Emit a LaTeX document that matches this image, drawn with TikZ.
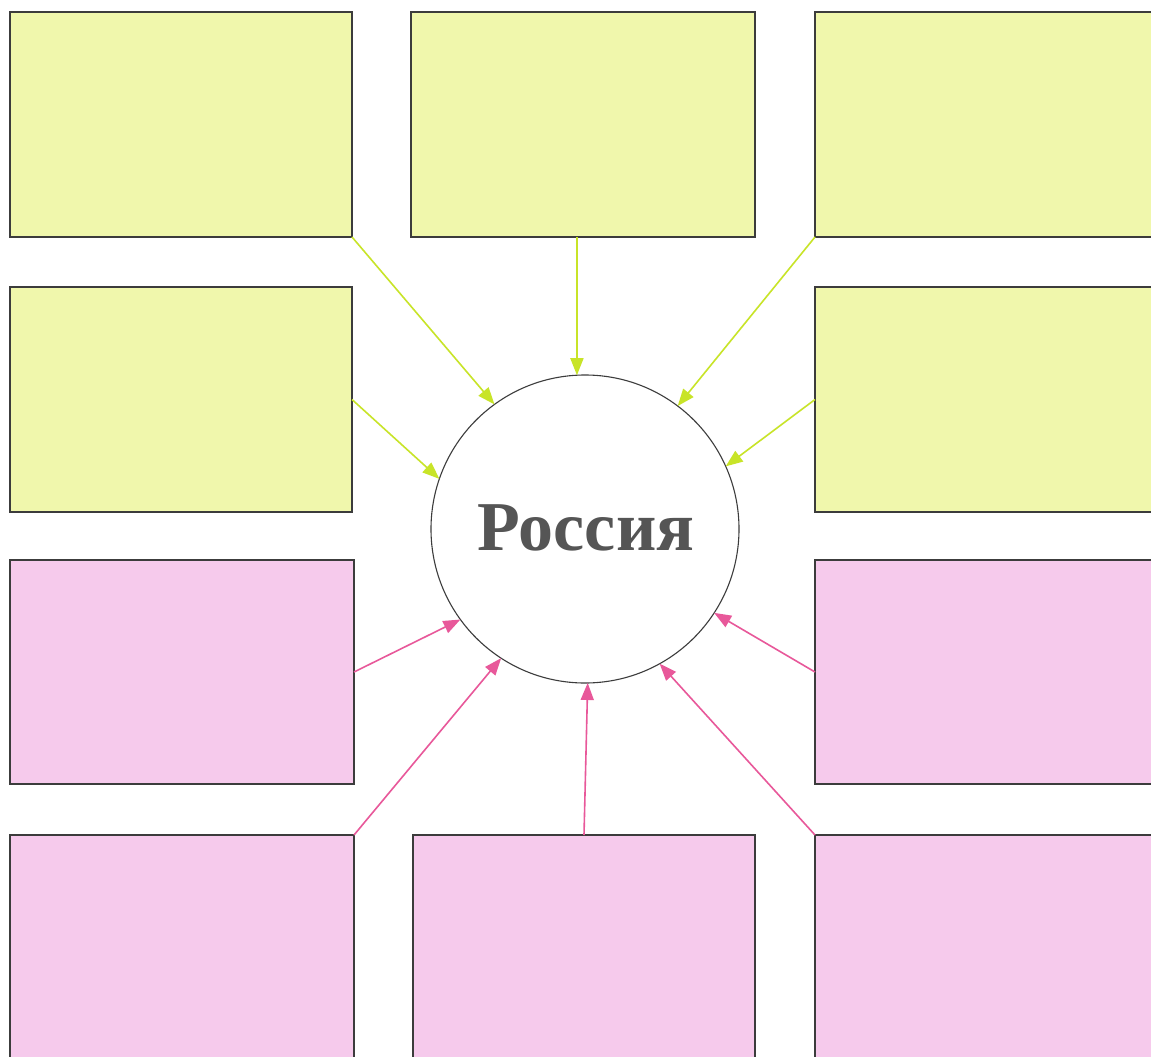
\documentclass[tikz,border=0pt]{standalone}
\usepackage{fontspec}
\setmainfont{Liberation Serif}
\usetikzlibrary{arrows.meta}
\definecolor{boxyellow}{RGB}{240,247,172}
\definecolor{boxpink}{RGB}{246,202,236}
\definecolor{arryellow}{RGB}{200,228,40}
\definecolor{arrpink}{RGB}{232,88,154}
\definecolor{edgegrey}{RGB}{60,60,60}
\definecolor{titlegrey}{RGB}{85,85,85}
\tikzset{
  card/.style={rectangle, draw=edgegrey, line width=1.3pt, inner sep=0pt, outer sep=0pt, anchor=north west},
  ycard/.style={card, fill=boxyellow},
  pcard/.style={card, fill=boxpink},
  yarrow/.style={draw=arryellow, line width=1.6pt, -{Triangle[length=17pt,width=13pt]}},
  parrow/.style={draw=arrpink, line width=1.6pt, -{Triangle[length=17pt,width=13pt]}},
}
\begin{document}
\begin{tikzpicture}[x=1pt,y=-1pt]
\useasboundingbox (0,0) rectangle (1151,1057);
\clip (0,0) rectangle (1151,1057);
\fill[white] (0,0) rectangle (1151,1057);
% yellow cards
\node[ycard, minimum width=342pt, minimum height=225pt] (b1) at (10,12) {};
\node[ycard, minimum width=344pt, minimum height=225pt] (b2) at (411,12) {};
\node[ycard, minimum width=360pt, minimum height=225pt] (b3) at (815,12) {};
\node[ycard, minimum width=342pt, minimum height=225pt] (b4) at (10,287) {};
\node[ycard, minimum width=360pt, minimum height=225pt] (b5) at (815,287) {};
% pink cards
\node[pcard, minimum width=344pt, minimum height=224pt] (b6) at (10,560) {};
\node[pcard, minimum width=360pt, minimum height=224pt] (b7) at (815,560) {};
\node[pcard, minimum width=344pt, minimum height=240pt] (b8) at (10,835) {};
\node[pcard, minimum width=342pt, minimum height=240pt] (b9) at (413,835) {};
\node[pcard, minimum width=360pt, minimum height=240pt] (b10) at (815,835) {};
% centre circle
\node[circle, draw=edgegrey, line width=1.1pt, fill=white, minimum size=308pt, inner sep=0pt, outer sep=0pt] (c) at (585,529) {};
\node[anchor=base, text=titlegrey, font=\bfseries\fontsize{70}{82}\selectfont, inner sep=0pt] (t) at (586,550) {Россия};
% arrows
\draw[yarrow] (b1.south east) -- (c.126);
\draw[yarrow] (b2.south -| c.93) -- (c.93);
\draw[yarrow] (b3.south west) -- (c.53);
\draw[yarrow] (b4.east) -- (c.161);
\draw[yarrow] (b5.west) -- (c.24);
\draw[parrow] (b6.east) -- (c.216);
\draw[parrow] (b7.west) -- (c.327);
\draw[parrow] (b8.north east) -- (c.237);
\draw[parrow] (b9.north) -- (c.271);
\draw[parrow] (b10.north west) -- (c.299);
\end{tikzpicture}
\end{document}
